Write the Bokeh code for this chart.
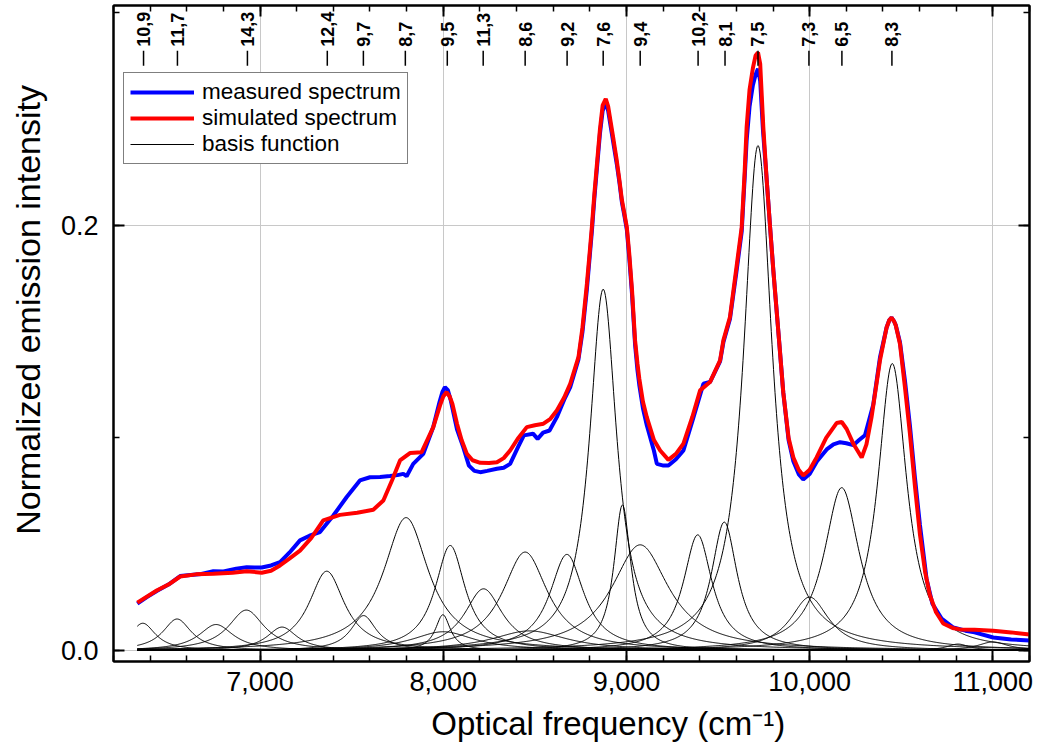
import numpy as np
from bokeh.plotting import figure
from bokeh.models import (Range1d, LinearAxis, SingleIntervalTicker, NumeralTickFormatter,
                          Legend, LegendItem, ColumnDataSource, CustomJSTickFormatter)
from bokeh.core.properties import value
from bokeh.embed import file_html
from bokeh.resources import INLINE

FONT = "Liberation Sans"

# ---- measured spectrum ----
meas_x = [6330, 6380, 6436, 6500, 6564, 6620, 6680, 6745, 6800, 6870, 6927, 6970, 7009, 7060,
          7109, 7160, 7218, 7270, 7327, 7400, 7473, 7545, 7600, 7655, 7709, 7750, 7782, 7800,
          7836, 7891, 7945, 7980, 7995, 8009, 8025, 8040, 8075, 8109, 8140, 8170, 8202, 8240,
          8293, 8330, 8365, 8410, 8440, 8490, 8515, 8545, 8580, 8620, 8660, 8693, 8738, 8760,
          8784, 8800, 8811, 8825, 8840, 8855, 8870, 8887, 8900, 8915, 8930, 8947, 8962, 8975,
          8990, 9002, 9015, 9030, 9047, 9060, 9070, 9090, 9111, 9150, 9166, 9202, 9229, 9270,
          9311, 9360, 9420, 9456, 9511, 9529, 9565, 9600, 9629, 9645, 9656, 9672, 9690, 9705,
          9718, 9730, 9745, 9765, 9784, 9802, 9833, 9856, 9885, 9911, 9940, 9965, 10000, 10040,
          10093, 10130, 10166, 10200, 10238, 10270, 10302, 10347, 10384, 10420, 10435, 10447,
          10460, 10470, 10493, 10520, 10547, 10575, 10602, 10638, 10670, 10720, 10784, 10850,
          10900, 11002, 11100, 11200]
meas_y = [0.022, 0.025, 0.028, 0.031, 0.035, 0.0355, 0.036, 0.0373, 0.0372, 0.0385, 0.0392, 0.039,
          0.039, 0.040, 0.0416, 0.046, 0.0518, 0.054, 0.0557, 0.0635, 0.0722, 0.080, 0.0815,
          0.0816, 0.0821, 0.0825, 0.0831, 0.082, 0.0878, 0.0925, 0.105, 0.117, 0.1215, 0.1239,
          0.1225, 0.118, 0.104, 0.0957, 0.087, 0.0845, 0.0839, 0.0845, 0.0855, 0.086, 0.0878,
          0.096, 0.1012, 0.102, 0.0996, 0.1025, 0.1035, 0.1098, 0.118, 0.1239, 0.137, 0.150,
          0.170, 0.186, 0.197, 0.213, 0.228, 0.243, 0.254, 0.258, 0.254, 0.246, 0.238, 0.229,
          0.220, 0.211, 0.204, 0.198, 0.185, 0.168, 0.144, 0.132, 0.125, 0.114, 0.106, 0.094,
          0.0878, 0.087, 0.087, 0.090, 0.0941, 0.108, 0.1255, 0.1263, 0.136, 0.145, 0.156, 0.178,
          0.197, 0.222, 0.240, 0.256, 0.266, 0.271, 0.2737, 0.268, 0.245, 0.222, 0.1992, 0.1785,
          0.1459, 0.1214, 0.099, 0.089, 0.083, 0.0805, 0.083, 0.089, 0.0946, 0.097, 0.098,
          0.0975, 0.0966, 0.099, 0.1013, 0.1156, 0.138, 0.152, 0.1555, 0.1566, 0.155, 0.153,
          0.145, 0.127, 0.106, 0.081, 0.059, 0.0337, 0.022, 0.015, 0.0108, 0.0093, 0.0085,
          0.0061, 0.0052, 0.0047]

# ---- simulated spectrum ----
sim_x = [6330, 6436, 6500, 6564, 6650, 6745, 6850, 6927, 7009, 7060, 7109, 7160, 7218, 7280,
         7345, 7436, 7530, 7618, 7673, 7720, 7764, 7818, 7882, 7945, 7985, 8000, 8018, 8035,
         8050, 8075, 8100, 8129, 8160, 8202, 8250, 8293, 8330, 8365, 8410, 8456, 8500, 8547,
         8585, 8620, 8660, 8693, 8738, 8760, 8784, 8800, 8811, 8825, 8840, 8855, 8870, 8887,
         8900, 8915, 8930, 8947, 8962, 8975, 8990, 9002, 9015, 9030, 9047, 9060, 9070, 9090,
         9111, 9150, 9184, 9229, 9270, 9311, 9360, 9402, 9456, 9511, 9529, 9565, 9600, 9629,
         9645, 9656, 9672, 9690, 9705, 9718, 9730, 9747, 9765, 9784, 9802, 9833, 9856, 9885,
         9911, 9940, 9965, 10000, 10038, 10090, 10147, 10175, 10202, 10240, 10284, 10310,
         10338, 10384, 10420, 10435, 10447, 10460, 10470, 10493, 10520, 10547, 10575, 10602,
         10630, 10656, 10690, 10729, 10780, 10820, 10900, 11002, 11100, 11200]
sim_y = [0.0225, 0.0282, 0.031, 0.0348, 0.0358, 0.0361, 0.0366, 0.0373, 0.0366, 0.0375, 0.040,
         0.0432, 0.047, 0.053, 0.0612, 0.0638, 0.0648, 0.0662, 0.0706, 0.080, 0.0894, 0.0929,
         0.0933, 0.105, 0.116, 0.1195, 0.1216, 0.1195, 0.116, 0.1067, 0.099, 0.0925, 0.0895,
         0.0883, 0.0882, 0.0886, 0.0905, 0.0941, 0.100, 0.1051, 0.106, 0.1067, 0.109, 0.1129,
         0.119, 0.1255, 0.138, 0.152, 0.1725, 0.188, 0.1992, 0.215, 0.230, 0.245, 0.2565,
         0.2596, 0.256, 0.248, 0.240, 0.2306, 0.221, 0.212, 0.205, 0.1992, 0.187, 0.170, 0.1459,
         0.135, 0.128, 0.117, 0.1098, 0.099, 0.0941, 0.0897, 0.0925, 0.0973, 0.110, 0.1224,
         0.1263, 0.1365, 0.1459, 0.1569, 0.180, 0.1992, 0.225, 0.2463, 0.264, 0.274, 0.280,
         0.2814, 0.276, 0.2463, 0.222, 0.1992, 0.1785, 0.1459, 0.1214, 0.100, 0.0908, 0.085,
         0.0823, 0.085, 0.0908, 0.100, 0.107, 0.1075, 0.1042, 0.097, 0.0908, 0.097, 0.1099,
         0.1366, 0.152, 0.1555, 0.1566, 0.155, 0.153, 0.1442, 0.124, 0.1023, 0.077, 0.0546,
         0.037, 0.0261, 0.018, 0.0127, 0.0106, 0.0099, 0.0097, 0.0093, 0.0085, 0.0075]

# ---- basis functions: peak centre, peak height, full width at half maximum ----
basis_center = [6360, 6547, 6760, 6925, 7120, 7364, 7565, 7797, 7998, 8000, 8038, 8220, 8447,
                8470, 8675, 8873, 8978, 9075, 9389, 9534, 9718, 10000, 10175, 10451, 10810, 11000]
basis_height = [0.0128, 0.0148, 0.0122, 0.0190, 0.0110, 0.0373, 0.0164, 0.0625, 0.0168, 0.0088,
                0.0494, 0.0290, 0.0463, 0.0092, 0.0452, 0.1700, 0.0685, 0.0497, 0.0544, 0.0604,
                0.2376, 0.0251, 0.0766, 0.1350, 0.0030, 0.0040]
basis_fwhm = [170, 190, 230, 240, 200, 236, 170, 300, 100, 420, 200, 255, 300, 500, 227, 180,
              113, 380, 190, 173, 190, 255, 236, 191, 150, 200]

# ---- top annotations: transition labels and their positions ----
peak_pos = [6364, 6549, 6931, 7367, 7564, 7793, 8022, 8218, 8447, 8676, 8873, 9075, 9391, 9538,
            9718, 9996, 10176, 10449]
peak_labels = ["10,9", "11,7", "14,3", "12,4", "9,7", "8,7", "9,5", "11,3", "8,6", "9,2", "7,6",
               "9,4", "10,2", "8,1", "7,5", "7,3", "6,5", "8,3"]

assert len(meas_x) == len(meas_y) and len(sim_x) == len(sim_y)

NB = "\u00a0"
p = figure(width=1041, height=753, output_backend="svg", toolbar_location=None,
           x_range=Range1d(6200, 11200), y_range=Range1d(-0.0052, 0.3035),
           min_border_left=113, min_border_right=12, min_border_top=5, min_border_bottom=92,
           x_axis_label=NB * 8 + "Optical frequency (cm\u207b\u00b9)",
           y_axis_label=NB * 5 + "Normalized emission intensity")
p.outline_line_color = "black"
p.outline_line_width = 2
p.background_fill_color = "white"
p.border_fill_color = "white"

top_axis = LinearAxis()
right_axis = LinearAxis()
p.add_layout(top_axis, "above")
p.add_layout(right_axis, "right")

xtick = SingleIntervalTicker(interval=1000, num_minor_ticks=5)
ytick = SingleIntervalTicker(interval=0.2, num_minor_ticks=2)

for ax in [p.below[0], top_axis]:
    ax.ticker = xtick
for ax in [p.left[0], right_axis]:
    ax.ticker = ytick

for ax in [p.below[0], p.left[0], top_axis, right_axis]:
    ax.axis_line_width = 2
    ax.axis_line_color = "black"
    ax.major_tick_in = 11
    ax.major_tick_out = 0
    ax.minor_tick_in = 6
    ax.minor_tick_out = 0
    ax.major_tick_line_width = 2
    ax.minor_tick_line_width = 1.5
    ax.major_tick_line_color = "black"
    ax.minor_tick_line_color = "black"
    ax.major_label_text_font = FONT
    ax.major_label_text_font_size = "27px"
    ax.major_label_text_color = "black"
    ax.axis_label_text_font = FONT
    ax.axis_label_text_font_style = "normal"
    ax.axis_label_text_color = "black"

p.below[0].axis_label_text_font_size = "33px"
p.left[0].axis_label_text_font_size = "34px"

# mirror axes: ticks only, no tick labels
for ax in [top_axis, right_axis]:
    ax.formatter = CustomJSTickFormatter(code="return ''")
    ax.major_label_text_font_size = "1px"
    ax.major_label_standoff = 0

p.below[0].formatter = NumeralTickFormatter(format="0,0")
p.below[0].major_label_standoff = 10
p.below[0].axis_label_standoff = 11
p.left[0].formatter = NumeralTickFormatter(format="0.0")
p.left[0].major_label_standoff = 15
p.left[0].axis_label_standoff = 11

p.xgrid.ticker = xtick
p.ygrid.ticker = ytick
p.xgrid.grid_line_color = "#c8c8c8"
p.ygrid.grid_line_color = "#c8c8c8"
p.xgrid.grid_line_width = 1
p.ygrid.grid_line_width = 1

# basis functions (Lorentzian line shapes built from the read peak parameters)
grid_x = np.linspace(6330, 11200, 1200)
xs, ys = [], []
for c, h, w in zip(basis_center, basis_height, basis_fwhm):
    xs.append(grid_x)
    ys.append(h / (1.0 + (2.0 * (grid_x - c) / w) ** 2))
r_basis = p.multi_line(xs, ys, line_color="black", line_width=1)

r_meas = p.line(meas_x, meas_y, line_color="#0000ff", line_width=4)
r_sim = p.line(sim_x, sim_y, line_color="#ff0000", line_width=4)

# top transition labels
lab_src = ColumnDataSource(dict(x=peak_pos, text=peak_labels))
p.text(x="x", y=0.2841, text="text", source=lab_src, angle=np.pi / 2, text_align="left",
       text_baseline="middle", text_font=value(FONT), text_font_style="bold",
       text_font_size="18px", text_color="black")
p.segment(x0="x", y0=0.2752, x1="x", y1=0.2822, source=lab_src, line_color="black",
          line_width=1.5)

legend = Legend(items=[LegendItem(label="measured spectrum", renderers=[r_meas]),
                       LegendItem(label="simulated spectrum", renderers=[r_sim]),
                       LegendItem(label="basis function", renderers=[r_basis])],
                location=(10, 497), orientation="vertical")
legend.label_text_font = FONT
legend.label_text_font_size = "22.5px"
legend.label_text_color = "black"
legend.border_line_color = "black"
legend.border_line_width = 1
legend.background_fill_alpha = 1.0
legend.padding = 6
legend.spacing = 0
legend.margin = 0
legend.glyph_width = 64
legend.glyph_height = 24
legend.label_height = 24
legend.label_standoff = 8
p.add_layout(legend)

open("out.html", "w").write(file_html(p, INLINE))
